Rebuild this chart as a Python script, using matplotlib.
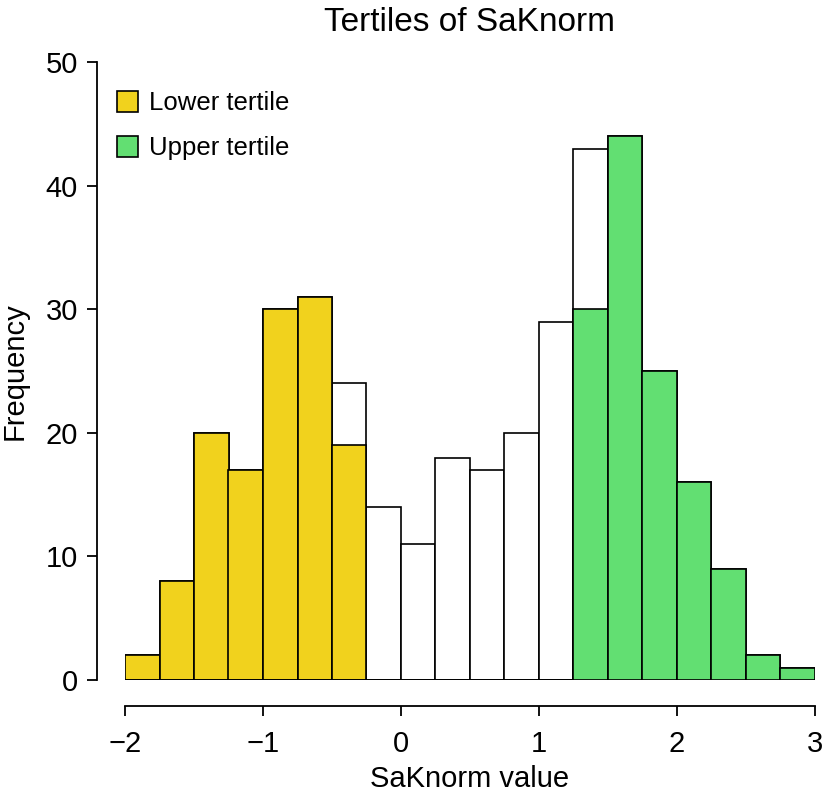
import numpy as np
import matplotlib.pyplot as plt

plt.rcParams['font.family'] = ['Liberation Sans', 'DejaVu Sans']

# --- data: histogram of SaKnorm, bins of width 0.25 from -2 to 3 ---
bin_edges = np.arange(-2.0, 3.0001, 0.25)
total_counts = [2, 8, 20, 17, 30, 31, 24, 14, 11, 18, 17, 20, 29, 43, 44, 25, 16, 9, 2, 1]
lower_counts = [2, 8, 20, 17, 30, 31, 19, 0, 0, 0, 0, 0, 0, 0, 0, 0, 0, 0, 0, 0]
upper_counts = [0, 0, 0, 0, 0, 0, 0, 0, 0, 0, 0, 0, 0, 30, 44, 25, 16, 9, 2, 1]

YELLOW = '#F1D21D'
GREEN = '#62DF72'

fig = plt.figure(figsize=(8.25, 8.02), dpi=100)
ax = fig.add_axes([125 / 825, 1 - 680 / 802, (815 - 125) / 825, (680 - 62) / 802])

left = bin_edges[:-1]
width = np.diff(bin_edges)
lw = 1.2

ax.bar(left, total_counts, width=width, align='edge', color='white', edgecolor='black', linewidth=lw)
ax.bar(left, lower_counts, width=width, align='edge', color=YELLOW, edgecolor='black', linewidth=lw,
       label='Lower tertile')
ax.bar(left, upper_counts, width=width, align='edge', color=GREEN, edgecolor='black', linewidth=lw,
       label='Upper tertile')

ax.set_xlim(-2, 3)
ax.set_ylim(0, 50)
ax.set_xticks([-2, -1, 0, 1, 2, 3])
ax.set_xticklabels(['\u22122', '\u22121', '0', '1', '2', '3'])
ax.set_yticks([0, 10, 20, 30, 40, 50])

for s in ['top', 'right']:
    ax.spines[s].set_visible(False)
ax.spines['left'].set_position(('outward', 20))
ax.spines['bottom'].set_position(('outward', 19))
for s in ['left', 'bottom']:
    ax.spines[s].set_linewidth(1.3)
ax.tick_params(axis='both', length=7, width=1.3, labelsize=21)
ax.tick_params(axis='x', pad=10)
ax.tick_params(axis='y', pad=7)

ax.set_xlabel('SaKnorm value', fontsize=21, labelpad=5)
ax.set_ylabel('Frequency', fontsize=21, labelpad=12)
ax.set_title('Tertiles of SaKnorm', fontsize=24, pad=22)

ax.legend(loc='upper left', bbox_to_anchor=(-0.012, 0.953), frameon=False, fontsize=18.5,
          borderpad=0, borderaxespad=0,
          handlelength=0.82, handleheight=0.85, handletextpad=0.45, labelspacing=0.82)

fig.savefig('out.png', dpi=100)
